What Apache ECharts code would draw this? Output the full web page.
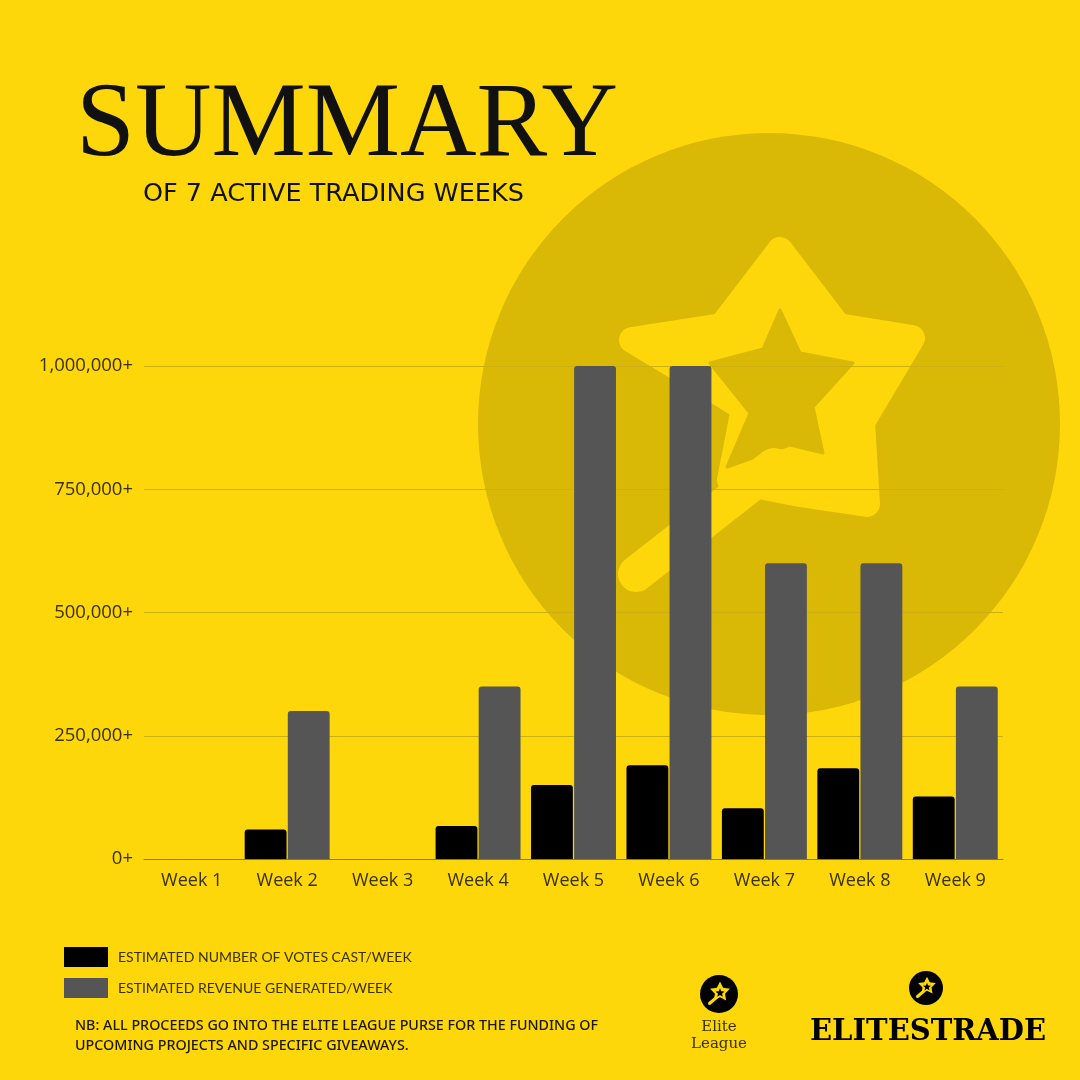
<!DOCTYPE html>
<html>
  <head>
    <title></title>
    <meta charset="UTF-8" />
    <script src="https://cdn.jsdelivr.net/npm/echarts@6/dist/echarts.min.js"></script>
    <style>
      html, body { margin: 0; padding: 0; background: #FED70A; }
      #mark { position: absolute; left: 0; top: 0; z-index: 0; }
      #main { position: relative; z-index: 1; }
    </style>
  </head>
  <body>
    <!-- watermark behind the chart -->
    <svg id="mark" width="1080" height="1080" viewBox="0 0 1080 1080">
      <circle cx="769" cy="424" r="291" fill="#D9B806" />
      <polygon points="780,250 838,326 912,338 862,422 867,504 800,494 730,480 744,408 632,340 722,326"
        fill="#FED70A" stroke="#FED70A" stroke-width="26" stroke-linejoin="round" />
      <polygon points="780,310 800,353 853,363 813,407 823,453 790,445 727,467 750,413 710,363 763,349"
        fill="#D9B806" stroke="#D9B806" stroke-width="3" stroke-linejoin="round" />
      <line x1="636" y1="574" x2="774" y2="466" stroke="#FED70A" stroke-width="36" stroke-linecap="round" />
    </svg>
    <div id="main"></div>
    <script>
      const width = 1080;
      const height = 1080;
      const main = document.getElementById('main');
      main.style.width = `${width}px`;
      main.style.height = `${height}px`;

      // data
      const weeks = ['Week 1', 'Week 2', 'Week 3', 'Week 4', 'Week 5', 'Week 6', 'Week 7', 'Week 8', 'Week 9'];
      const votes = [0, 60000, 0, 67000, 150000, 190000, 103000, 184000, 127000];
      const revenue = [0, 300000, 0, 350000, 1000000, 1000000, 600000, 600000, 350000];
      const seriesNames = ['ESTIMATED NUMBER OF VOTES CAST/WEEK', 'ESTIMATED REVENUE GENERATED/WEEK'];

      const bg = '#FED70A';
      const ink = '#3a3100';

      // star outline points for the small logo badges
      const starPts = (cx, cy, R, r) => {
        const pts = [];
        for (let i = 0; i < 10; i++) {
          const a = -Math.PI / 2 + i * Math.PI / 5;
          const rad = i % 2 ? r : R;
          pts.push([cx + rad * Math.cos(a), cy + rad * Math.sin(a)]);
        }
        return pts;
      };

      const badge = (cx, cy, rr) => [
        { type: 'circle', shape: { cx, cy, r: rr }, style: { fill: '#000' } },
        { type: 'polygon', shape: { points: starPts(cx + 1, cy - 2, rr * 0.55, rr * 0.28) },
          style: { fill: bg } },
        { type: 'line', shape: { x1: cx - rr * 0.5, y1: cy + rr * 0.5, x2: cx - 2, y2: cy + 3 },
          style: { stroke: bg, lineWidth: 3, lineCap: 'round' } },
        { type: 'polygon', shape: { points: starPts(cx + 1, cy - 1, rr * 0.25, rr * 0.11) },
          style: { fill: '#000' } }
      ];

      const myChart = echarts.init(main);
      const option = {
        backgroundColor: 'transparent',
        animation: false,
        color: ['#000000', '#555555'],
        legend: {
          orient: 'vertical',
          left: 64,
          top: 947,
          padding: 0,
          itemWidth: 44,
          itemHeight: 20,
          itemGap: 11,
          icon: 'rect',
          data: seriesNames,
          textStyle: { color: ink, fontFamily: 'Lato', fontSize: 14, padding: [0, 0, 0, 5] }
        },
        grid: { left: 144, right: 77, top: 366, bottom: 221 },
        xAxis: {
          type: 'category',
          data: weeks,
          axisTick: { show: false },
          axisLine: { lineStyle: { color: '#8c7a14', width: 1 } },
          axisLabel: { color: ink, fontFamily: 'Open Sans', fontSize: 18, margin: 13 }
        },
        yAxis: {
          type: 'value',
          min: 0,
          max: 1000000,
          interval: 250000,
          axisLine: { show: false },
          axisTick: { show: false },
          splitLine: { lineStyle: { color: '#CDB010', width: 1 } },
          axisLabel: {
            color: ink, fontFamily: 'Open Sans', fontSize: 18.5, margin: 11,
            formatter: v => v.toLocaleString('en-US') + '+'
          }
        },
        series: [
          {
            name: seriesNames[0],
            type: 'bar',
            data: votes,
            barGap: '3%',
            barCategoryGap: '11%',
            itemStyle: { borderRadius: [3, 3, 0, 0] }
          },
          {
            name: seriesNames[1],
            type: 'bar',
            data: revenue,
            itemStyle: { borderRadius: [3, 3, 0, 0] }
          }
        ],
        graphic: {
          elements: [
            // headings
            { type: 'text', left: 76, top: 74,
              style: { text: 'SUMMARY', font: '106px "Liberation Serif"', fill: '#111' } },
            { type: 'text', left: 143, top: 181,
              style: { text: 'OF 7 ACTIVE TRADING WEEKS', font: '25.5px "DejaVu Sans"', fill: '#111' } },
            // footnote
            { type: 'text', left: 75, top: 1016,
              style: { text: 'NB: ALL PROCEEDS GO INTO THE ELITE LEAGUE PURSE FOR THE FUNDING OF\nUPCOMING PROJECTS AND SPECIFIC GIVEAWAYS.',
                font: '500 14.3px "Noto Sans"', fill: '#1c1800', lineHeight: 20 } },
            // logos
            ...badge(719, 994, 19),
            { type: 'text', x: 719, y: 1019,
              style: { text: 'Elite\nLeague', font: '15px "DejaVu Serif"', fill: ink, align: 'center',
                verticalAlign: 'top', lineHeight: 17 } },
            ...badge(926, 988, 17),
            { type: 'text', left: 810, top: 1018,
              style: { text: 'ELITESTRADE', font: 'bold 29px "DejaVu Serif"', fill: '#000' } }
          ]
        }
      };
      myChart.setOption(option);
    </script>
  </body>
</html>
